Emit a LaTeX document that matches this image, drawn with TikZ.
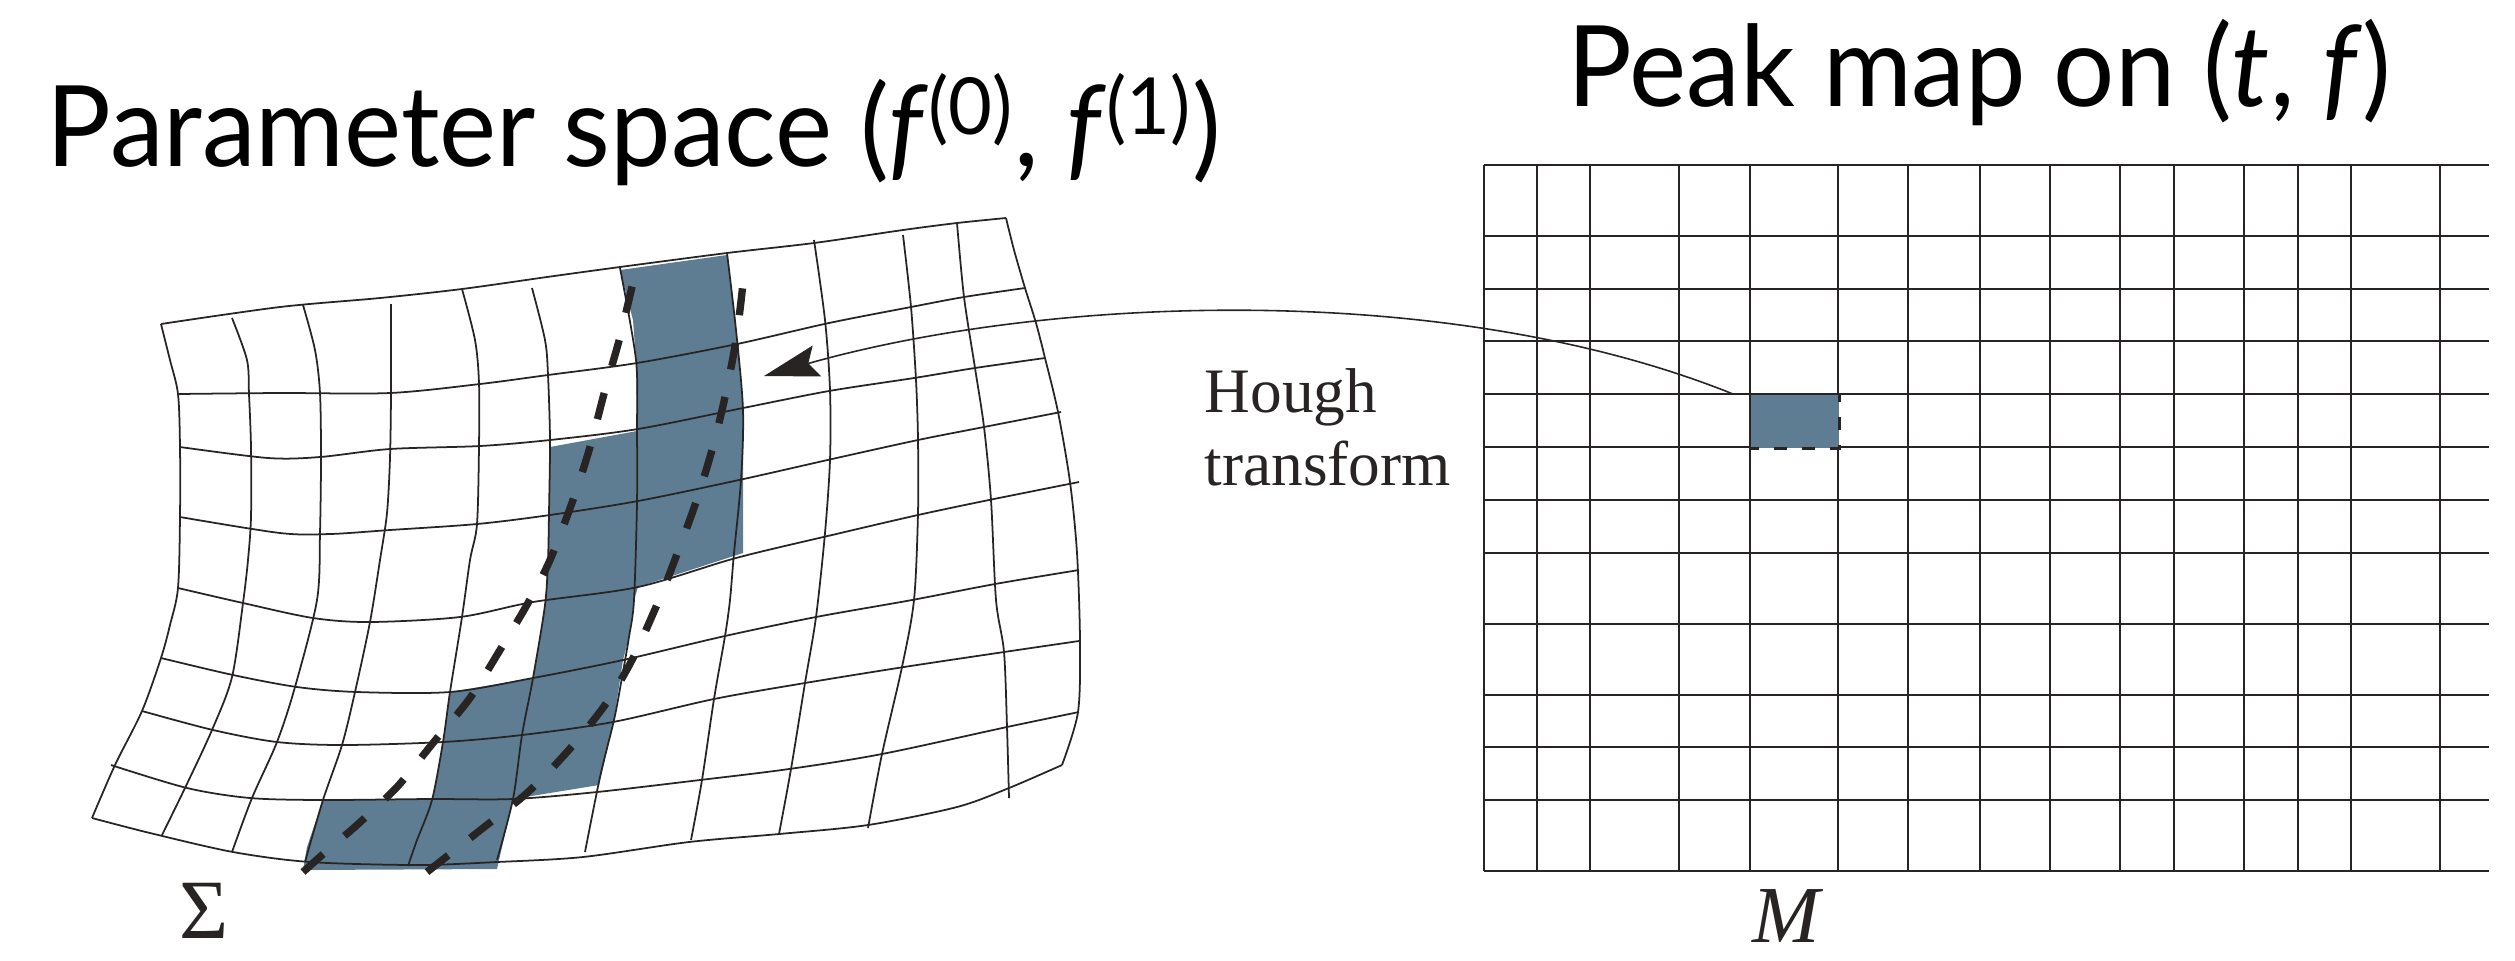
\documentclass[tikz,border=0pt]{standalone}
\usepackage{fontspec}
\setmainfont{Liberation Serif}
\newfontfamily\gillfont{Lato}
\usetikzlibrary{arrows.meta}
\definecolor{ink}{RGB}{40,36,35}
\definecolor{bandblue}{RGB}{94,125,147}
\newcommand{\narrowtext}[1]{\scalebox{0.96}[1]{#1}}

\begin{document}
\begin{tikzpicture}[x=0.01cm, y=-0.01cm,
    % Define the styles
    meshline/.style={draw=ink, line width=0.5pt, line join=round},
    bandedge/.style={draw=ink, line width=2.1pt, dash pattern=on 0.27cm off 0.28cm},
    mapline/.style={draw=ink, line width=0.75pt},
    peakcell/.style={fill=bandblue, minimum width=0.88cm, minimum height=0.53cm, inner sep=0pt},
    houghline/.style={draw=ink, line width=0.45pt, -{Stealth[length=5.5mm, width=3.2mm, inset=0.9mm]}},
    title/.style={font=\gillfont\fontsize{32}{38}\selectfont, text=black, inner sep=0pt},
    serif/.style={text=ink, inner sep=0pt}
  ]

\useasboundingbox (0,0) rectangle (2515,960);

% shaded band
\fill[bandblue] (620,270) -- (727,255) -- (736,330) -- (743,410) -- (743,480) -- (743,553)
  -- (638,587) -- (634,600) -- (629,637) -- (623,660) -- (614,720) -- (599,785)
  -- (513,799) -- (497,869) -- (303,870) -- (307,847) -- (323,800) -- (432,800)
  -- (443,742) -- (450,692) -- (533,678) -- (545,605) -- (548,560) -- (549,513)
  -- (550,447) -- (637,431) -- (636,360) -- (633,320) -- cycle;

% rows of the mesh
\draw[meshline] plot[smooth] coordinates {(161,324) (280,307) (380,298) (462,289) (547,277) (620,267) (727,253) (814,243) (903,230) (957,223) (1006,218)};
\draw[meshline] plot[smooth] coordinates {(178,394) (280,393) (390,393) (480,384) (548,375) (637,363) (737,344) (829,323) (911,307) (964,297) (1025,288)};
\draw[meshline] plot[smooth] coordinates {(180,447) (268,458) (320,457) (390,449) (480,446) (550,440) (638,429) (743,408) (829,391) (914,378) (975,368) (1045,358)};
\draw[meshline] plot[smooth] coordinates {(180,517) (280,533) (330,534) (390,530) (477,524) (550,515) (638,501) (739,480) (832,459) (918,440) (984,427) (1061,412)};
\draw[meshline] plot[smooth] coordinates {(178,588) (243,603) (313,618) (370,622) (460,617) (533,602) (638,587) (736,558) (832,535) (918,515) (989,500) (1079,482)};
\draw[meshline] plot[smooth] coordinates {(161,658) (233,675) (297,687) (357,692) (450,692) (533,678) (623,660) (725,636) (816,617) (912,600) (995,584) (1079,570)};
\draw[meshline] plot[smooth] coordinates {(142,711) (213,730) (277,742) (343,745) (443,742) (522,735) (613,722) (714,699) (805,683) (904,667) (1004,652) (1079,641)};
\draw[meshline] plot[smooth] coordinates {(111,765) (187,788) (250,798) (323,800) (430,799) (513,799) (597,792) (700,780) (789,769) (882,754) (1007,727) (1079,712)};
\draw[meshline] plot[smooth] coordinates {(92,818) (150,833) (233,852) (310,862) (417,865) (497,862) (583,857) (689,842) (779,834) (868,825) (957,807) (1009,788) (1062,765)};

% columns of the mesh
\draw[meshline] plot[smooth] coordinates {(161,324) (170,360) (178,394) (180,447) (180,517) (178,588) (170,625) (161,658) (142,711) (115,765) (92,818)};
\draw[meshline] plot[smooth] coordinates {(232,318) (247,360) (249,394) (251,447) (251,517) (248,560) (243,603) (232,677) (212,730) (185,788) (162,835)};
\draw[meshline] plot[smooth] coordinates {(303,305) (315,350) (320,393) (321,458) (320,533) (317,600) (295,687) (277,742) (252,798) (232,852)};
\draw[meshline] plot[smooth] coordinates {(391,304) (391,393) (390,458) (387,513) (380,560) (370,622) (355,692) (342,745) (323,800) (305,862)};
\draw[meshline] plot[smooth] coordinates {(462,289) (475,340) (479,383) (479,446) (477,524) (470,560) (462,617) (450,692) (443,742) (432,800) (417,840) (408,866)};
\draw[meshline] plot[smooth] coordinates {(532,288) (545,340) (548,375) (550,440) (549,513) (548,560) (545,605) (533,678) (522,735) (513,799) (497,860)};
\draw[meshline] plot[smooth] coordinates {(620,268) (636,360) (637,430) (637,503) (634,600) (629,637) (621,683) (614,720) (600,777) (585,852)};
\draw[meshline] plot[smooth] coordinates {(727,253) (736,330) (743,410) (741,480) (734,553) (730,600) (725,636) (714,699) (702,780) (691,840)};
\draw[meshline] plot[smooth] coordinates {(814,240) (825,320) (830,390) (830,460) (825,533) (816,617) (805,683) (791,769) (779,834)};
\draw[meshline] plot[smooth] coordinates {(903,235) (911,307) (916,380) (918,440) (918,513) (914,600) (902,667) (882,754) (868,828)};
\draw[meshline] plot[smooth] coordinates {(957,223) (964,297) (975,368) (984,427) (991,500) (996,600) (1004,652) (1007,727) (1009,798)};
\draw[meshline] plot[smooth] coordinates {(1006,218) (1014,250) (1025,288) (1036,323) (1045,358) (1058,412) (1070,482) (1077,553) (1080,641) (1078,712) (1062,765)};

% dashed edges of the band
\draw[bandedge] plot[smooth] coordinates {(303,872) (330,848) (357,825) (397,787) (433,743) (470,698) (500,650) (528,603) (550,560) (573,500) (590,447) (605,390) (620,337) (633,283) (638,268)};
\draw[bandedge] plot[smooth] coordinates {(427,872) (455,850) (483,828) (527,793) (567,752) (605,705) (632,660) (659,600) (671,570) (695,505) (712,450) (725,397) (736,340) (743,283) (743,270)};

% peak map grid
\foreach \x in {1484,1537,1590,1679,1750,1838,1908,1980,2050,2120,2174,2244,2298,2351,2440}
  \draw[mapline] (\x,165) -- (\x,871);
\foreach \y in {165,236,289,341,394,447,500,553,624,695,747,800,871}
  \draw[mapline] (1484,\y) -- (2489,\y);

\node[peakcell, anchor=north west] (peak) at (1750,394) {};
\draw[ink, line width=0.75pt, dash pattern=on 0.13cm off 0.15cm] (peak.north west) -- (peak.north east) -- (peak.south east) -- (peak.south west);
\draw[mapline] (peak.north west) -- (peak.south west);

\coordinate (arrowtip) at (764,376);
\draw[houghline] ([xshift=-0.17cm]peak.north west) .. controls (1450,280) and (1050,295) .. (arrowtip);

% labels
\node[title, anchor=base west] (paramtitle) at (46,166) {\narrowtext{Parameter space (\textit{f}\textsuperscript{(0)}, \textit{f}\textsuperscript{(1)})}};
\node[title, anchor=base west] (peaktitle) at (1567,106) {\narrowtext{Peak map on (\textit{t}, \textit{f})}};
\node[serif, anchor=base west, align=left, font=\fontsize{18}{20.5}\selectfont] (hough) at (1204,485) {Hough\\transform};
\node[serif, anchor=base west, font=\fontsize{24}{28}\selectfont] (sigma) at (179,938) {Σ};
\node[serif, anchor=base, font=\fontsize{23}{27}\selectfont\itshape] (mlabel) at (1786,942) {M};

\end{tikzpicture}
\end{document}
